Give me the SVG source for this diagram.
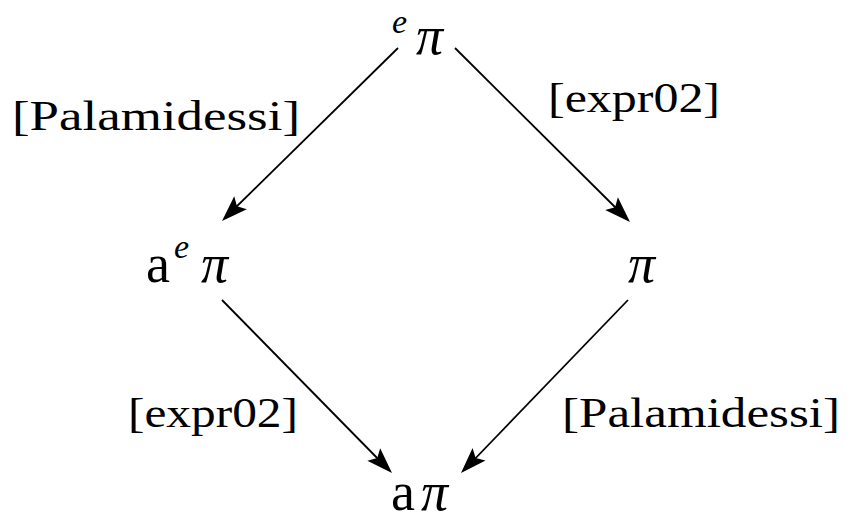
<svg xmlns="http://www.w3.org/2000/svg" width="851" height="521" viewBox="0 0 851 521">
<style>
text{fill:#000;font-family:"Liberation Serif","DejaVu Serif",serif}
.lbl{font-size:42px}
.node{font-size:54px}
.it{font-style:italic}
.sup{font-size:34px;font-style:italic}
.edge{stroke:#000;stroke-width:1.8;fill:none}
.head{fill:#000;stroke:none}
</style>
<defs>
<path id="ah" d="M0,0 L-26,-9 L-21,0 L-26,9 Z"/>
</defs>
<g id="connectors">
<line class="edge" x1="398" y1="48" x2="230" y2="213"/>
<line class="edge" x1="455" y1="48" x2="622" y2="214"/>
<line class="edge" x1="222" y1="300" x2="384" y2="465"/>
<line class="edge" x1="628" y1="300" x2="469" y2="465"/>
<use href="#ah" class="head" transform="translate(222,221) rotate(135.5)"/>
<use href="#ah" class="head" transform="translate(630,222) rotate(44.8)"/>
<use href="#ah" class="head" transform="translate(392,473) rotate(45.5)"/>
<use href="#ah" class="head" transform="translate(461,473) rotate(134.0)"/>
<text class="lbl" x="12" y="130" textLength="288" lengthAdjust="spacingAndGlyphs">[Palamidessi]</text>
<text class="lbl" x="548" y="112" textLength="172" lengthAdjust="spacingAndGlyphs">[expr02]</text>
<text class="lbl" x="128" y="427" textLength="170" lengthAdjust="spacingAndGlyphs">[expr02]</text>
<text class="lbl" x="562" y="427" textLength="278" lengthAdjust="spacingAndGlyphs">[Palamidessi]</text>
</g>
<g id="node-top">
<text class="sup" x="392" y="33">e</text>
<text class="node it" x="416" y="54">π</text>
</g>
<g id="node-left">
<text class="node" x="146" y="282">a</text>
<text class="sup" x="174" y="258">e</text>
<text class="node it" x="201" y="282">π</text>
</g>
<g id="node-right">
<text class="node it" x="628" y="282">π</text>
</g>
<g id="node-bottom">
<text class="node" x="391" y="510">a</text>
<text class="node it" x="421" y="510">π</text>
</g>
</svg>
